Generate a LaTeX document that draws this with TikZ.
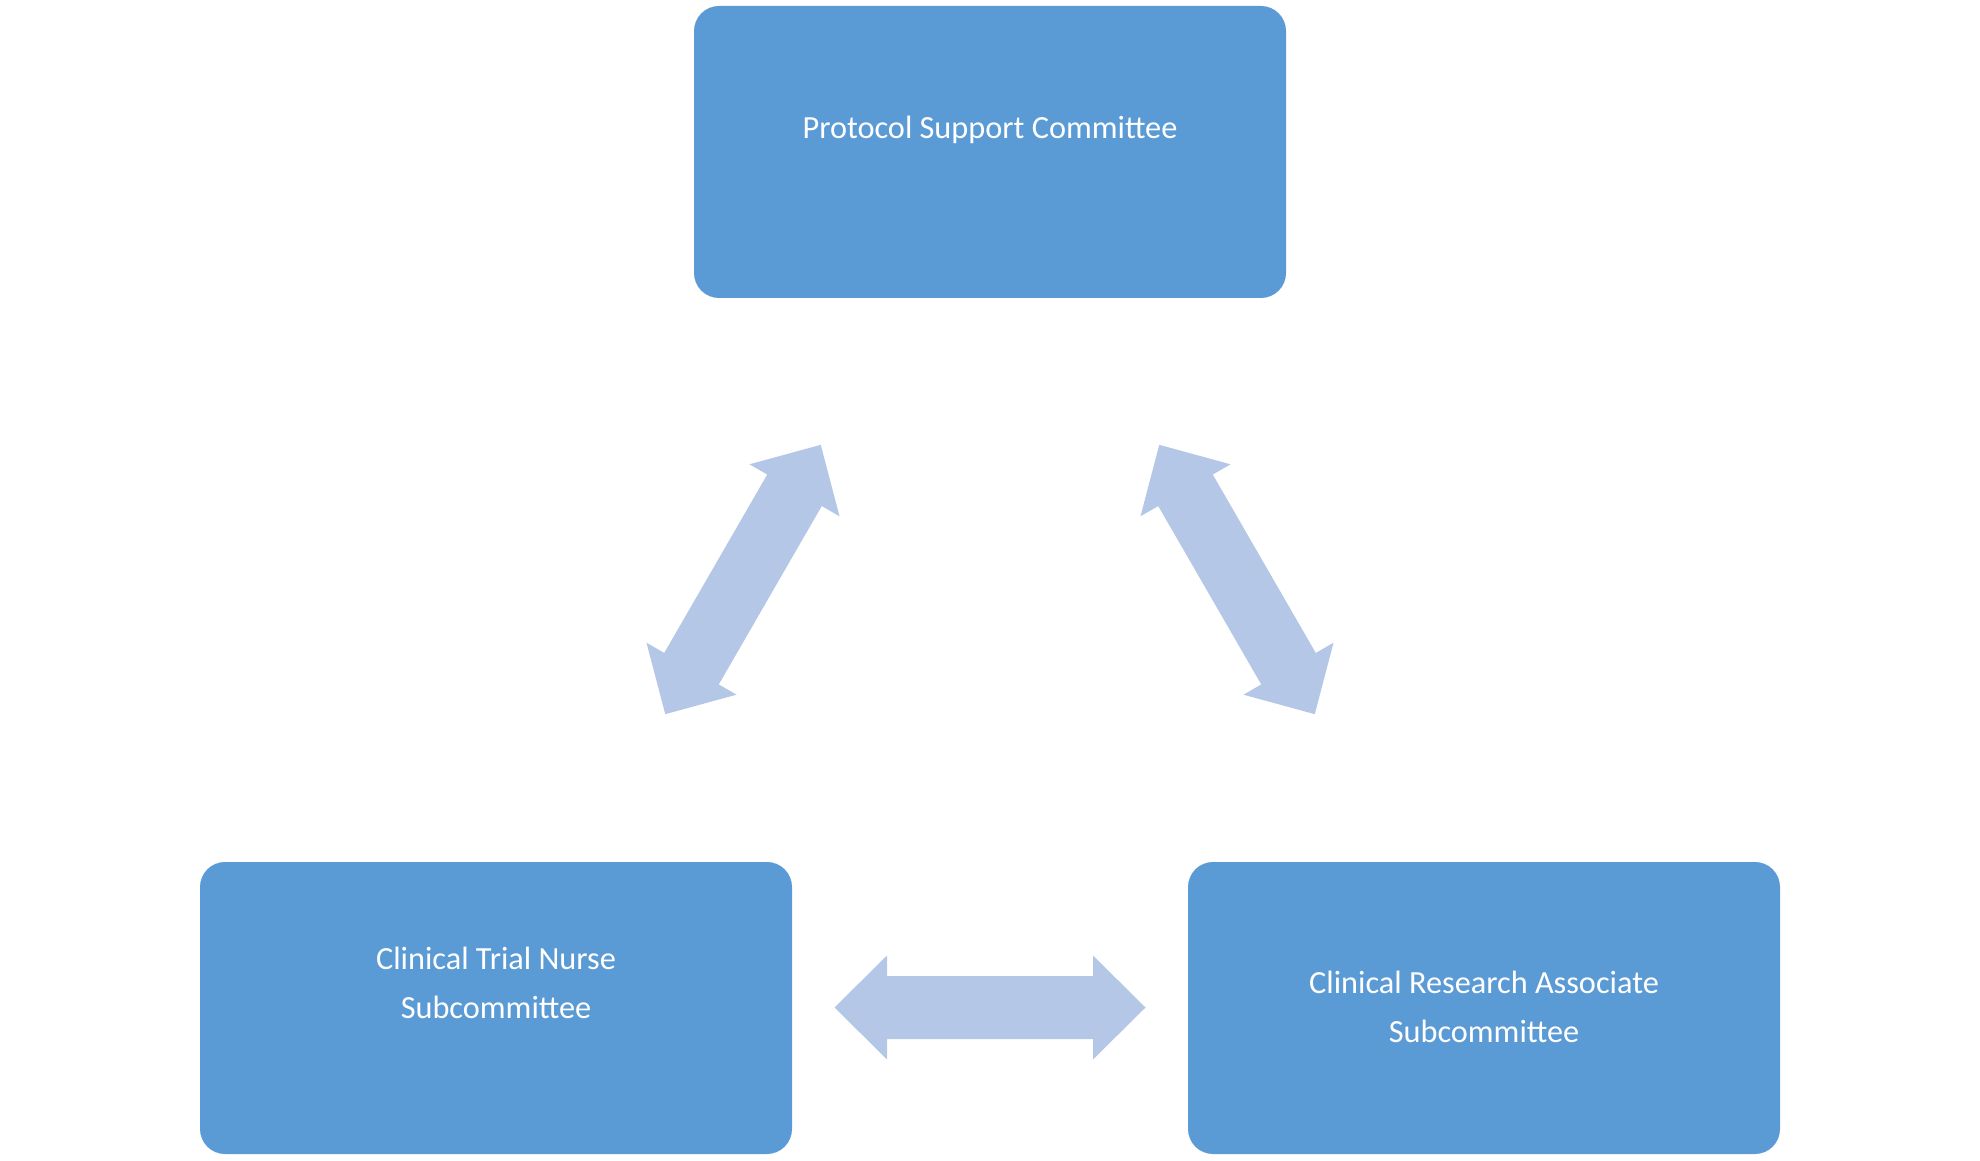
\documentclass[tikz,border=0pt]{standalone}
\usepackage{fontspec}
\setmainfont{Carlito}

\definecolor{boxblue}{HTML}{5B9BD5}
\definecolor{arrowblue}{HTML}{B4C7E7}

\tikzset{
    committee/.style={fill=boxblue, rounded corners=25pt, minimum width=592pt,
        minimum height=292pt, inner sep=0pt},
    boxtext/.style={text=white, font=\fontsize{32.3}{48.5}\selectfont, align=center},
    dblarrow/.pic={
        \fill [arrowblue] (155.5,0) -- (103,52) -- (103,31.5) -- (-103,31.5)
            -- (-103,52) -- (-155.5,0) -- (-103,-52) -- (-103,-31.5)
            -- (103,-31.5) -- (103,-52) -- cycle;
    }
}

\begin{document}
\begin{tikzpicture}[x=1pt, y=1pt]
        \useasboundingbox (0,0) rectangle (1980,1160);

        % Committees
        \node [committee] (psc) at (990,1008) {};
        \node [committee] (ctn) at (496,152) {};
        \node [committee] (cra) at (1484,152) {};

        \node [boxtext] (psctext) at ([yshift=22pt]psc.center) {Protocol Support Committee};
        \node [boxtext] (ctntext) at ([yshift=25pt]ctn.center) {Clinical Trial Nurse\\Subcommittee};
        \node [boxtext] (cratext) at ([yshift=1pt]cra.center) {Clinical Research Associate\\Subcommittee};

        % Arrows between them
        \coordinate (pscctn) at (743,580.5);
        \coordinate (psccra) at (1237,580.5);
        \coordinate (ctncra) at (990,152.5);

        \pic [rotate=60] at (pscctn) {dblarrow};
        \pic [rotate=-60] at (psccra) {dblarrow};
        \pic at (ctncra) {dblarrow};

    \end{tikzpicture}
\end{document}
